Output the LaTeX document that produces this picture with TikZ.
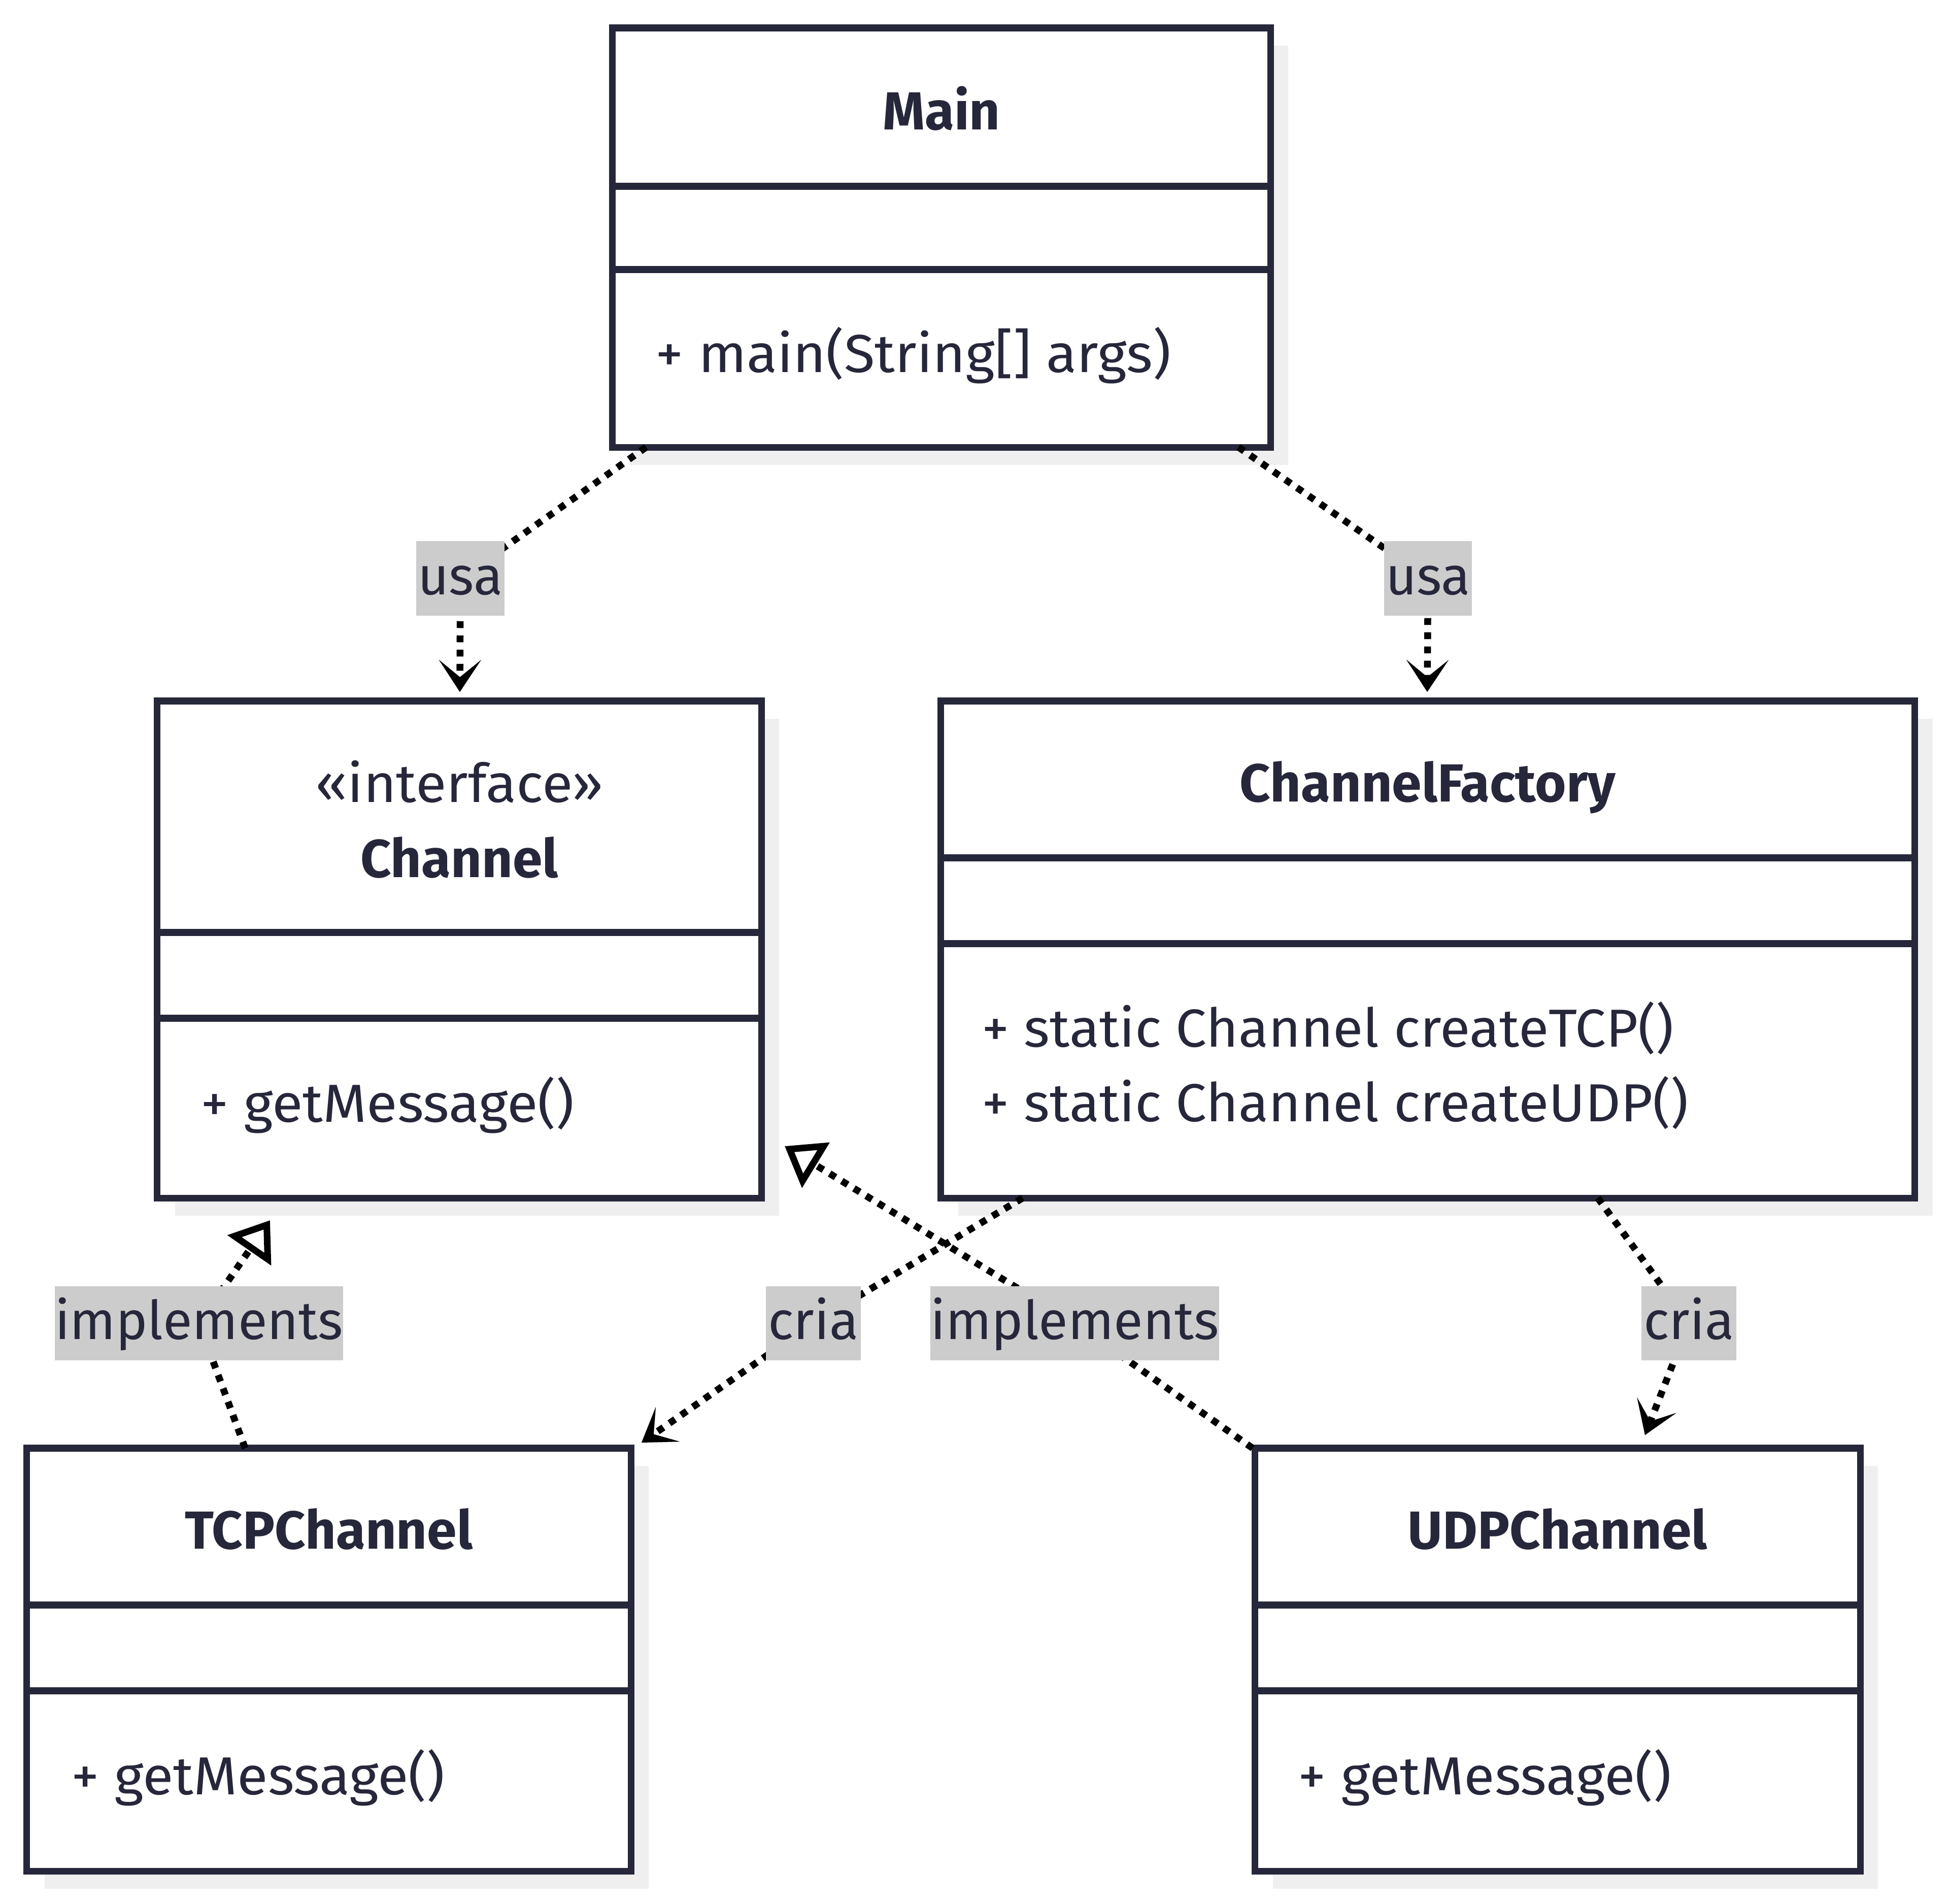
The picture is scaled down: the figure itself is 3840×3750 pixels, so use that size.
\documentclass[tikz,border=0pt]{standalone}
\usepackage{fontspec}
\usepackage{graphicx}
\setmainfont{Fira Sans}
\usetikzlibrary{arrows.meta,shadows}
\definecolor{ink}{RGB}{39,39,59}
\definecolor{shade}{RGB}{239,239,239}
\definecolor{lblbg}{RGB}{204,204,204}
\pgfdeclarelayer{back}
\pgfdeclarelayer{mid}
\pgfsetlayers{back,mid,main}
\newcommand{\dfont}{\fontsize{30pt}{36pt}\selectfont}
\newcommand{\widen}[1]{\scalebox{1.05}[1]{#1}}
\newcommand{\widenb}[1]{\scalebox{1.03}[1]{#1}}
\begin{document}
\begin{tikzpicture}[x=0.01cm,y=-0.01cm,
  cls/.style={draw=ink, line width=0.135cm, fill=white, inner sep=0pt,
    drop shadow={shadow xshift=0.35cm, shadow yshift=-0.35cm, fill=shade, opacity=1}},
  divl/.style={draw=ink, line width=0.135cm},
  ttl/.style={anchor=base, text=ink, font=\dfont\bfseries, inner sep=0pt},
  ster/.style={anchor=base, text=ink, font=\dfont, inner sep=0pt},
  mth/.style={anchor=base west, text=ink, font=\dfont, inner sep=0pt},
  lbl/.style={fill=lblbg, text=ink, font=\dfont, inner xsep=0pt, inner ysep=0pt,
    text height=1.05cm, text depth=0.41cm},
  dep/.style={draw=black, line width=0.135cm, dash pattern=on 0.135cm off 0.145cm,
    -{Stealth[length=0.63cm,width=0.83cm,inset=0.34cm,line width=0.01pt]}},
  real/.style={draw=black, line width=0.135cm, dash pattern=on 0.135cm off 0.145cm,
    -{Triangle[open,length=0.72cm,width=1.02cm,line width=0.13cm]}},
]
\useasboundingbox (0,0) rectangle (3840,3750);

\begin{pgfonlayer}{back}
% class boxes
\node[cls, minimum width=12.96cm, minimum height=8.26cm] (main) at (1855,468) {};
\node[cls, minimum width=11.90cm, minimum height=9.79cm] (chan) at (905,1870.5) {};
\node[cls, minimum width=19.18cm, minimum height=9.79cm] (fact) at (2813,1870.5) {};
\node[cls, minimum width=11.90cm, minimum height=8.33cm] (tcp) at (648,3269.5) {};
\node[cls, minimum width=11.92cm, minimum height=8.33cm] (udp) at (3069,3269.5) {};
% dividers
\draw[divl] (main.west |- 0,367) -- (main.east |- 0,367);
\draw[divl] (main.west |- 0,531) -- (main.east |- 0,531);
\draw[divl] (chan.west |- 0,1837) -- (chan.east |- 0,1837);
\draw[divl] (chan.west |- 0,2006) -- (chan.east |- 0,2006);
\draw[divl] (fact.west |- 0,1690) -- (fact.east |- 0,1690);
\draw[divl] (fact.west |- 0,1859) -- (fact.east |- 0,1859);
\draw[divl] (tcp.west |- 0,3162) -- (tcp.east |- 0,3162);
\draw[divl] (tcp.west |- 0,3331) -- (tcp.east |- 0,3331);
\draw[divl] (udp.west |- 0,3162) -- (udp.east |- 0,3162);
\draw[divl] (udp.west |- 0,3331) -- (udp.east |- 0,3331);
\end{pgfonlayer}

% texts in boxes
\node[ttl] (mainT) at (1855,255) {Main};
\node[mth] (mainM) at (1291,733) {\widen{+ main(String[] args)}};
\node[ster] (chanS) at (905,1580) {\widen{«interface»}};
\node[ttl] (chanT) at (905,1728) {Channel};
\node[mth] (chanM) at (395,2210) {\widen{+ getMessage()}};
\node[ttl] (factT) at (2813,1579) {ChannelFactory};
\node[mth] (factM1) at (1934,2062) {\widenb{+ static Channel createTCP()}};
\node[mth] (factM2) at (1934,2209) {\widenb{+ static Channel createUDP()}};
\node[ttl] (tcpT) at (648,3051) {TCPChannel};
\node[mth] (tcpM) at (140,3535) {\widen{+ getMessage()}};
\node[ttl] (udpT) at (3069,3051) {UDPChannel};
\node[mth] (udpM) at (2557,3535) {\widen{+ getMessage()}};

% edge labels
\node[lbl, minimum width=1.74cm] (l1) at (907,1139.5) {usa};
\node[lbl, minimum width=1.73cm] (l2) at (2813.5,1139.5) {usa};
\node[lbl, minimum width=5.68cm] (l3) at (392,2606.5) {implements};
\node[lbl, minimum width=1.87cm] (l5) at (1602.5,2606.5) {cria};
\node[lbl, minimum width=5.69cm] (l4) at (2117.5,2606.5) {implements};
\node[lbl, minimum width=1.87cm] (l6) at (3327.5,2606.5) {cria};

% connector ends
\coordinate (s1) at (1273,881);  \coordinate (t1) at (906,1363);
\coordinate (s2) at (2440,881);  \coordinate (t2) at (2812,1363);
\coordinate (s3) at (483,2853);  \coordinate (t3) at (532,2404);
\coordinate (s4) at (2468,2853); \coordinate (t4) at (1546,2258);
\coordinate (s5) at (2015,2360); \coordinate (t5) at (1264,2842);
\coordinate (s6) at (3148,2360); \coordinate (t6) at (3241,2827);

\begin{pgfonlayer}{mid}
\draw[dep] (s1) -- (l1.center) -- (t1);
\draw[dep] (s2) -- (l2.center) -- (t2);
\draw[real] (s3) -- (l3.center) -- (t3);
\draw[real] (s4) -- (l4.center) -- (t4);
\draw[dep] (s5) -- (l5.center) -- (t5);
\draw[dep] (s6) -- (l6.center) -- (t6);
\end{pgfonlayer}
\end{tikzpicture}
\end{document}
